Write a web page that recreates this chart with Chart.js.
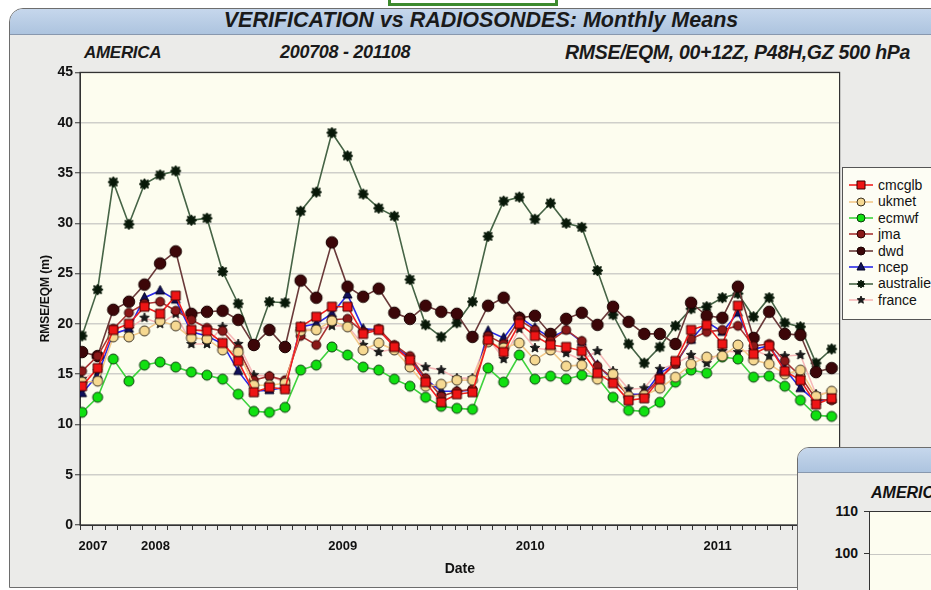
<!DOCTYPE html>
<html>
<head>
<meta charset="utf-8">
<script src="https://cdn.jsdelivr.net/npm/chart.js@4.4.1/dist/chart.umd.min.js"></script>
<style>
body { margin: 0; width: 931px; height: 590px; overflow: hidden; background: #fff; position: relative;
  font-family: "Liberation Sans", Arial, sans-serif; color: #111; }
.bracket { position: absolute; left: 388px; top: -2px; width: 164px; height: 5px; border: 3px solid #3d8a2e; border-top: none; }
.win { position: absolute; left: 9px; top: 8px; width: 960px; height: 578px; background: #ebebe9;
  border: 1px solid #6d6d6d; border-top-left-radius: 14px; overflow: hidden; }
.bar { height: 25px; background: linear-gradient(#c6d7ec, #adc4df); border-bottom: 1px solid #8898ae; }
.title { position: absolute; left: 0; width: 962px; top: 8px; text-align: center; font-size: 21.5px; font-weight: bold; font-style: italic; color: #1a1a1a; }
.sub { position: absolute; top: 42px; font-size: 18px; font-weight: bold; font-style: italic; color: #1a1a1a; white-space: nowrap; letter-spacing: -0.3px; }
#wrap { position: absolute; left: 30px; top: 62px; width: 817px; height: 520px; }
.legend { position: absolute; left: 842px; top: 167px; width: 110px; height: 151px; background: #fdfdf4; border: 1px solid #555; }
.legend div { position: absolute; left: 6px; height: 16px; font-size: 14px; line-height: 16px; white-space: nowrap; }
.legend canvas { vertical-align: middle; margin-right: 5px; position: relative; top: -1px; }
.win2 { position: absolute; left: 797px; top: 447px; width: 160px; height: 160px; background: #ebebe9;
  border: 1px solid #6d6d6d; border-top-left-radius: 12px; overflow: hidden; }
.win2 .bar { height: 24px; }
.w2t { position: absolute; left: 73px; top: 36px; font-size: 16px; font-weight: bold; font-style: italic; }
.w2p { position: absolute; left: 71px; top: 63px; width: 100px; height: 100px; background: #fdfdf0; border-left: 1px solid #333; border-top: 1px solid #333; }
.w2g { position: absolute; left: 0; top: 42px; width: 100px; border-top: 1px solid #c8c8c4; }
.w2l { position: absolute; left: 30px; width: 30px; text-align: right; font-size: 14px; font-weight: bold; }
.w2k { position: absolute; left: 66px; width: 5px; border-top: 1px solid #333; }
</style>
</head>
<body>
<div class="bracket"></div>
<div class="win"><div class="bar"></div></div>
<div class="title">VERIFICATION vs RADIOSONDES: Monthly Means</div>
<div class="sub" style="left:84px;font-size:17px;top:43px">AMERICA</div>
<div class="sub" style="left:280px">200708 - 201108</div>
<div class="sub" style="left:565px;font-size:19.5px;top:41px">RMSE/EQM, 00+12Z, P48H,GZ 500 hPa</div>
<div id="wrap"><canvas id="chart"></canvas></div>
<div class="legend" id="legend"></div>
<div class="win2">
  <div class="bar"></div>
  <div class="w2t">AMERICA</div>
  <div class="w2l" style="top:55px">110</div>
  <div class="w2k" style="top:63px"></div>
  <div class="w2l" style="top:97px">100</div>
  <div class="w2k" style="top:105px"></div>
  <div class="w2p"><div class="w2g"></div></div>
</div>
<script>
var months = ['200708','200709','200710','200711','200712',
  '200801','200802','200803','200804','200805','200806','200807','200808','200809','200810','200811','200812',
  '200901','200902','200903','200904','200905','200906','200907','200908','200909','200910','200911','200912',
  '201001','201002','201003','201004','201005','201006','201007','201008','201009','201010','201011','201012',
  '201101','201102','201103','201104','201105','201106','201107','201108'];

var cmcglb = [13.8,15.6,19.4,20.0,21.7,21.0,22.8,19.4,19.3,18.1,16.3,13.2,13.7,13.5,19.7,20.7,21.7,21.7,19.0,19.4,
  17.7,16.4,14.2,12.2,13.0,13.2,18.4,17.2,20.0,18.8,17.9,17.7,17.3,15.1,14.1,12.4,12.6,14.5,16.3,19.4,
  19.9,18.0,21.8,17.0,17.8,15.3,14.4,12.0,12.6];
var ukmet = [14.2,14.3,18.7,18.7,19.3,20.3,19.8,18.6,18.5,17.4,17.2,13.9,13.9,14.1,19.3,19.4,20.3,19.7,17.4,18.1,
  17.4,15.7,13.8,14.0,14.4,14.4,18.2,17.6,18.1,16.4,17.4,15.8,15.9,14.5,15.0,12.8,12.9,13.6,14.7,16.0,
  16.7,16.8,17.9,16.4,16.0,15.0,15.4,12.8,13.3];
var ecmwf = [11.2,12.7,16.5,14.3,15.9,16.2,15.7,15.2,14.9,14.5,13.0,11.3,11.2,11.7,15.4,15.9,17.7,16.9,15.7,15.4,
  14.5,13.8,12.7,11.8,11.6,11.5,15.6,14.2,16.9,14.5,14.8,14.5,14.9,14.7,12.7,11.4,11.3,12.2,14.2,15.4,
  15.1,16.7,16.5,14.7,14.8,13.8,12.4,10.9,10.8];
var jma = [15.3,16.8,19.5,21.1,22.0,22.2,21.3,20.4,19.6,19.3,17.5,14.4,14.8,14.4,18.8,17.9,20.4,20.5,19.2,19.5,
  17.9,16.8,14.6,12.8,13.3,13.5,18.8,18.0,20.4,19.4,18.3,19.4,18.3,15.8,14.6,12.8,13.0,14.6,16.0,18.5,
  19.2,19.4,19.8,17.8,18.0,16.3,14.8,12.5,12.4];
var dwd = [17.2,16.8,21.4,22.2,23.9,26.0,27.2,21.0,21.2,21.3,20.4,17.9,19.4,17.7,24.3,22.6,28.1,23.7,22.7,23.5,
  21.1,20.5,21.8,21.2,21.0,18.7,21.8,22.6,20.6,20.8,19.0,20.5,21.1,19.9,21.7,20.2,19.0,19.0,18.0,22.1,
  20.8,20.6,23.7,18.6,21.2,19.0,18.9,15.2,15.6];
var ncep = [13.1,14.9,19.0,19.5,22.6,23.3,22.4,19.2,18.8,18.0,15.3,13.3,13.4,13.7,19.7,20.0,21.0,22.9,19.5,19.4,
  17.8,16.6,14.5,13.3,13.3,13.4,19.3,18.6,20.7,19.6,18.6,19.4,18.2,15.9,14.4,13.0,13.0,15.1,16.0,18.4,
  20.2,19.2,21.1,17.5,17.8,15.5,13.6,12.3,12.5];
var australie = [18.8,23.4,34.1,29.9,33.9,34.8,35.2,30.3,30.5,25.2,22.0,17.9,22.2,22.1,31.2,33.1,39.0,36.7,32.9,31.5,
  30.7,24.4,19.9,18.7,20.1,22.2,28.7,32.2,32.6,30.4,32.0,30.0,29.6,25.3,20.9,18.0,16.1,17.7,19.8,21.5,
  21.7,22.6,23.0,20.7,22.6,20.1,19.7,16.1,17.5];
var france = [14.5,15.3,19.0,19.5,20.6,20.0,21.0,18.0,18.0,19.7,18.0,14.9,14.8,14.2,19.5,19.4,19.8,19.8,17.9,17.2,
  17.5,16.4,15.7,15.4,14.6,14.6,18.6,16.5,19.5,17.6,17.4,17.1,16.4,17.3,15.3,13.5,13.6,15.5,16.0,16.9,
  16.1,17.3,17.2,17.4,16.8,16.8,16.9,13.0,13.2];

var yearLabels = ['2007','2008','2009','2010','2011'];
var yearMonths = ['200709','200801','200901','201001','201101'];

// how each model is drawn
var series = [
  { name: 'cmcglb',    data: cmcglb,    line: '#f02020', mark: 'rect',     r: 4.5, fill: '#ee1515', edge: '#3a0000' },
  { name: 'ukmet',     data: ukmet,     line: '#f3c98a', mark: 'circle',   r: 5,   fill: '#f6d992', edge: '#3a3020' },
  { name: 'ecmwf',     data: ecmwf,     line: '#3ed23e', mark: 'circle',   r: 5,   fill: '#10e010', edge: '#0c3a0c' },
  { name: 'jma',       data: jma,       line: '#a83434', mark: 'circle',   r: 4.5, fill: '#8a1818', edge: '#2a0000' },
  { name: 'dwd',       data: dwd,       line: '#6a3a3a', mark: 'circle',   r: 5.8, fill: '#3c0608', edge: '#1a0000' },
  { name: 'ncep',      data: ncep,      line: '#2a2ae6', mark: 'triangle', r: 4.5, fill: '#10105a', edge: '#000020' },
  { name: 'australie', data: australie, line: '#466446', mark: 'star8',    r: 5.5, fill: '#081808', edge: '#081808' },
  { name: 'france',    data: france,    line: '#f6b8b8', mark: 'star5',    r: 5,   fill: '#1a1a1a', edge: '#1a1a1a' }
];

function drawMark(g, kind, x, y, r, fill, edge) {
  g.beginPath();
  if (kind === 'circle') {
    g.arc(x, y, r, 0, Math.PI * 2);
  } else if (kind === 'rect') {
    g.rect(x - r, y - r, 2 * r, 2 * r);
  } else if (kind === 'triangle') {
    g.moveTo(x, y - r * 1.15); g.lineTo(x + r, y + r * 0.75); g.lineTo(x - r, y + r * 0.75); g.closePath();
  } else {
    var n = kind === 'star5' ? 5 : 8, ri = kind === 'star5' ? r * 0.45 : r * 0.62;
    for (var i = 0; i < n * 2; i++) {
      var a = -Math.PI / 2 + i * Math.PI / n, rr = i % 2 ? ri : r;
      g.lineTo(x + rr * Math.cos(a), y + rr * Math.sin(a));
    }
    g.closePath();
  }
  g.fillStyle = fill; g.fill();
  g.lineWidth = 1; g.strokeStyle = edge; g.stroke();
}

function markImage(s) {
  var size = Math.ceil(s.r * 2 + 4), c = document.createElement('canvas');
  c.width = c.height = size;
  drawMark(c.getContext('2d'), s.mark, size / 2, size / 2, s.r, s.fill, s.edge);
  return c;
}

var firstTick = months.indexOf(yearMonths[0]) - 0.3;
var tickValues = [];
for (var t = firstTick - 0.8; t < 48.5; t += 0.8) tickValues.push(+t.toFixed(2));

function yearLabel(v) {
  for (var i = 0; i < yearMonths.length; i++) {
    if (Math.abs(months.indexOf(yearMonths[i]) - 0.3 - v) < 0.05) return yearLabels[i];
  }
  return '';
}

var plotFrame = {
  id: 'plotFrame',
  beforeDraw: function(c) {
    var a = c.chartArea, ctx = c.ctx;
    ctx.save();
    ctx.fillStyle = '#fdfdef';
    ctx.fillRect(a.left, a.top, a.right - a.left, a.bottom - a.top);
    ctx.restore();
  },
  beforeDatasetsDraw: function(c) {
    var a = c.chartArea, ctx = c.ctx;
    ctx.save();
    ctx.strokeStyle = '#333';
    ctx.lineWidth = 1.2;
    ctx.strokeRect(a.left, a.top, a.right - a.left, a.bottom - a.top);
    ctx.restore();
  }
};

var font = '"Liberation Sans", Arial, sans-serif';

new Chart(document.getElementById('chart'), {
  type: 'line',
  data: {
    datasets: series.map(function(s) {
      return {
        label: s.name,
        data: s.data.map(function(v, i) { return { x: i, y: v }; }),
        borderColor: s.line,
        backgroundColor: s.fill,
        borderWidth: 1.6,
        tension: 0,
        pointStyle: markImage(s),
        pointRadius: s.r
      };
    })
  },
  options: {
    responsive: true,
    maintainAspectRatio: false,
    animation: false,
    layout: { padding: { top: 10, right: 0, left: 0, bottom: 0 } },
    plugins: { legend: { display: false }, tooltip: { enabled: false } },
    scales: {
      x: {
        type: 'linear', min: -0.13, max: 48.51,
        afterBuildTicks: function(s) { s.ticks = tickValues.map(function(v) { return { value: v }; }); },
        afterFit: function(s) { s.height = 57; },
        ticks: { autoSkip: false, maxRotation: 0, padding: 9, color: '#111',
          font: { family: font, size: 13, weight: 'bold' }, callback: yearLabel },
        grid: { drawOnChartArea: false, tickLength: 5, color: '#333' },
        border: { color: '#333' },
        title: { display: true, text: 'Date', color: '#111', padding: { top: 0, bottom: 4 },
          font: { family: font, size: 14, weight: 'bold' } }
      },
      y: {
        min: 0, max: 45,
        afterFit: function(s) { s.width = 50; },
        ticks: { stepSize: 5, padding: 2, color: '#111', font: { family: font, size: 14, weight: 'bold' } },
        grid: { color: '#cfcfca', lineWidth: 1.5, tickLength: 5, tickColor: '#333', tickWidth: 1 },
        border: { color: '#333' },
        title: { display: true, text: 'RMSE/EQM (m)', color: '#111', padding: { top: 8, bottom: 0 },
          font: { family: font, size: 12, weight: 'bold' } }
      }
    }
  },
  plugins: [plotFrame]
});

// legend box on the right, cut by the window edge as in the original
var legend = document.getElementById('legend');
series.forEach(function(s, i) {
  var row = document.createElement('div');
  row.style.top = (9 + i * 16.4) + 'px';
  var c = document.createElement('canvas');
  c.width = 24; c.height = 14;
  var g = c.getContext('2d');
  g.strokeStyle = s.line; g.lineWidth = 1.6;
  g.beginPath(); g.moveTo(0, 7); g.lineTo(24, 7); g.stroke();
  drawMark(g, s.mark, 12, 7, Math.min(s.r, 4.5) - 0.5, s.fill, s.edge);
  row.appendChild(c);
  row.appendChild(document.createTextNode(s.name));
  legend.appendChild(row);
});
</script>
</body>
</html>
